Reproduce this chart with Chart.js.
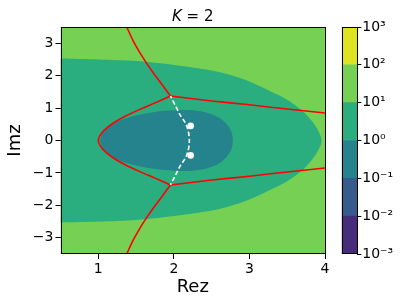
<!DOCTYPE html>
<html>
<head>
<meta charset="utf-8">
<script src="https://cdn.jsdelivr.net/npm/chart.js@4"></script>
<style>
  html, body { margin: 0; padding: 0; background: #fff; }
  #main { position: absolute; left: 0; top: 0; }
  #bar { position: absolute; left: 330px; top: 0; }
</style>
</head>
<body>
<canvas id="main" width="409" height="307"></canvas>
<canvas id="bar" width="79" height="307"></canvas>
<script>
// axes
const xRange = [0.5, 4];
const yRange = [-3.5, 3.5];
const xTicks = [1, 2, 3, 4];
const yTicks = [-3, -2, -1, 0, 1, 2, 3];

// contour |f| = 10^1 (edge of the 10^0..10^1 band)
const outerX = [0.5, 1.0, 1.5, 2.0, 2.5, 2.75, 3.0, 3.25, 3.5, 3.7, 3.82, 3.9, 3.955,
                3.9, 3.82, 3.7, 3.5, 3.25, 3.0, 2.75, 2.5, 2.0, 1.5, 1.0, 0.5];
const outerY = [2.53, 2.50, 2.45, 2.33, 2.16, 2.02, 1.82, 1.55, 1.26, 0.92, 0.62, 0.35, 0,
                -0.35, -0.62, -0.92, -1.26, -1.55, -1.82, -2.02, -2.16, -2.33, -2.45, -2.50, -2.53];

// contour |f| = 10^0 (edge of the 10^-1..10^0 band)
const innerX = [1.02, 1.06, 1.15, 1.3, 1.5, 1.75, 2.0, 2.25, 2.45, 2.6, 2.7, 2.76, 2.78,
                2.76, 2.7, 2.6, 2.45, 2.25, 2.0, 1.75, 1.5, 1.3, 1.15, 1.06, 1.02];
const innerY = [0, 0.25, 0.45, 0.63, 0.77, 0.88, 0.93, 0.93, 0.85, 0.70, 0.50, 0.28, 0,
                -0.28, -0.50, -0.70, -0.85, -0.93, -0.93, -0.88, -0.77, -0.63, -0.45, -0.25, 0];

// red curves
const redUpX = [1.376, 1.46, 1.552, 1.64, 1.727, 1.86, 1.955];
const redUpY = [3.5, 3.08, 2.70, 2.38, 2.09, 1.67, 1.37];
const redDownX = [1.376, 1.46, 1.552, 1.64, 1.727, 1.86, 1.955];
const redDownY = [-3.5, -3.08, -2.70, -2.38, -2.09, -1.67, -1.37];
const redTopX = [1.955, 2.5, 3.0, 3.5, 4.0];
const redTopY = [1.37, 1.22, 1.10, 0.97, 0.85];
const redBotX = [1.955, 2.5, 3.0, 3.5, 4.0];
const redBotY = [-1.37, -1.22, -1.10, -0.97, -0.85];
const redLeftX = [1.955, 1.75, 1.55, 1.35, 1.2, 1.08, 1.02, 1.0, 1.02, 1.08, 1.2, 1.35, 1.55, 1.75, 1.955];
const redLeftY = [1.37, 1.16, 0.96, 0.74, 0.54, 0.32, 0.14, 0, -0.14, -0.32, -0.54, -0.74, -0.96, -1.16, -1.37];

// white dashed curve and the two points
const dashX = [1.955, 2.02, 2.08, 2.15, 2.19, 2.205, 2.19, 2.15, 2.08, 2.02, 1.955];
const dashY = [1.37, 1.08, 0.80, 0.55, 0.30, 0, -0.30, -0.55, -0.80, -1.08, -1.37];
const dotX = [2.222, 2.222];
const dotY = [0.45, -0.46];

// colorbar
const cbLevels = [1e-3, 1e-2, 1e-1, 1e0, 1e1, 1e2, 1e3];
const cbLabels = ['10\u207B\u00B3', '10\u207B\u00B2', '10\u207B\u00B9', '10\u2070', '10\u00B9', '10\u00B2', '10\u00B3'];

const bandColors = ['#472c7b', '#365c8d', '#25838e', '#2aad7f', '#75d054', '#e0e322'];
const FONT = 'DejaVu Sans';

const pts = (xs, ys) => xs.map((x, i) => ({ x: x, y: ys[i] }));

const frame = {
  id: 'frame',
  afterDatasetsDraw(chart) {
    const a = chart.chartArea, ctx = chart.ctx;
    ctx.save();
    ctx.strokeStyle = '#000';
    ctx.lineWidth = 1;
    ctx.strokeRect(Math.round(a.left) + 0.5, Math.round(a.top) + 0.5,
      Math.round(a.right - a.left) - 1, Math.round(a.bottom - a.top) - 1);
    ctx.restore();
  }
};

// title with an italic K, centred over the plot area
const mathTitle = {
  id: 'mathTitle',
  afterDraw(chart) {
    const a = chart.chartArea, ctx = chart.ctx;
    const parts = [['italic 15px ' + FONT, 'K'], ['15px ' + FONT, ' = 2']];
    ctx.save();
    let w = 0;
    parts.forEach(p => { ctx.font = p[0]; w += ctx.measureText(p[1]).width; });
    let x = (a.left + a.right) / 2 - w / 2;
    ctx.fillStyle = '#000';
    ctx.textBaseline = 'alphabetic';
    parts.forEach(p => { ctx.font = p[0]; ctx.fillText(p[1], x, a.top - 6.5); x += ctx.measureText(p[1]).width; });
    ctx.restore();
  }
};

function region(xs, ys, color, order) {
  return { data: pts(xs, ys), showLine: true, fill: 'shape', backgroundColor: color,
    borderWidth: 0, pointRadius: 0, tension: 0.3, order: order };
}
function red(xs, ys) {
  return { data: pts(xs, ys), showLine: true, fill: false, borderColor: '#ff0000',
    borderWidth: 1.6, pointRadius: 0, tension: 0.3, order: 2 };
}

const bgX = [xRange[0], xRange[1], xRange[1], xRange[0]];
const bgY = [yRange[0], yRange[0], yRange[1], yRange[1]];

const tickGrid = { display: true, drawOnChartArea: false, drawTicks: true, tickLength: 5, color: '#000', lineWidth: 1 };

new Chart(document.getElementById('main'), {
  type: 'scatter',
  data: {
    datasets: [
      Object.assign(region(bgX, bgY, bandColors[4], 9), { tension: 0 }),
      region(outerX, outerY, bandColors[3], 8),
      region(innerX, innerY, bandColors[2], 7),
      red(redUpX, redUpY),
      red(redDownX, redDownY),
      red(redTopX, redTopY),
      red(redBotX, redBotY),
      red(redLeftX, redLeftY),
      { data: pts(dashX, dashY), showLine: true, fill: false, borderColor: '#ffffff',
        borderWidth: 1.6, borderDash: [4.5, 2.5], borderDashOffset: 2, pointRadius: 0, tension: 0.3, order: 1 },
      { data: pts(dotX, dotY), showLine: false, pointRadius: 3.3, pointBackgroundColor: '#ffffff',
        pointBorderWidth: 0, order: 0 }
    ]
  },
  options: {
    responsive: false,
    animation: false,
    events: [],
    layout: { padding: { left: 0, right: 84, top: 27, bottom: 0 } },
    plugins: {
      legend: { display: false },
      tooltip: { enabled: false },
      title: { display: false }
    },
    scales: {
      x: {
        type: 'linear', min: xRange[0], max: xRange[1],
        afterBuildTicks: (s) => { s.ticks = xTicks.map(v => ({ value: v })); },
        afterFit: (s) => { s.height = 53; },
        ticks: { color: '#000', font: { family: FONT, size: 14 }, padding: 2, maxRotation: 0 },
        grid: tickGrid,
        border: { display: false },
        title: { display: true, text: 'Rez', color: '#000', font: { family: FONT, size: 18 },
          padding: { top: 0, bottom: 9.2 } }
      },
      y: {
        type: 'linear', min: yRange[0], max: yRange[1],
        afterBuildTicks: (s) => { s.ticks = yTicks.map(v => ({ value: v })); },
        afterFit: (s) => { s.width = 60.5; },
        ticks: { color: '#000', font: { family: FONT, size: 14 }, padding: 2,
          callback: (v) => String(v).replace('-', '\u2212') },
        grid: tickGrid,
        border: { display: false },
        title: { display: true, text: 'Imz', color: '#000', font: { family: FONT, size: 18 },
          padding: { top: 5, bottom: 0 } }
      }
    }
  },
  plugins: [frame, mathTitle]
});

new Chart(document.getElementById('bar'), {
  type: 'bar',
  data: {
    labels: [''],
    datasets: bandColors.map((c, i) => ({
      data: [[cbLevels[i], cbLevels[i + 1]]], backgroundColor: c, borderWidth: 0,
      grouped: false, barPercentage: 1, categoryPercentage: 1
    }))
  },
  options: {
    responsive: false,
    animation: false,
    events: [],
    layout: { padding: { left: 11.7, right: 0, top: 27, bottom: 53 } },
    plugins: { legend: { display: false }, tooltip: { enabled: false } },
    scales: {
      x: { display: false },
      y: {
        type: 'logarithmic', position: 'right', min: cbLevels[0], max: cbLevels[cbLevels.length - 1],
        afterBuildTicks: (s) => { s.ticks = cbLevels.map(v => ({ value: v })); },
        afterFit: (s) => { s.width = 51.7; },
        ticks: { color: '#000', font: { family: FONT, size: 14 }, padding: 1,
          callback: (v, i) => cbLabels[i] },
        grid: { display: true, drawOnChartArea: false, drawTicks: true, tickLength: 4, color: '#000', lineWidth: 1 },
        border: { display: false }
      }
    }
  },
  plugins: [frame]
});
</script>
</body>
</html>
